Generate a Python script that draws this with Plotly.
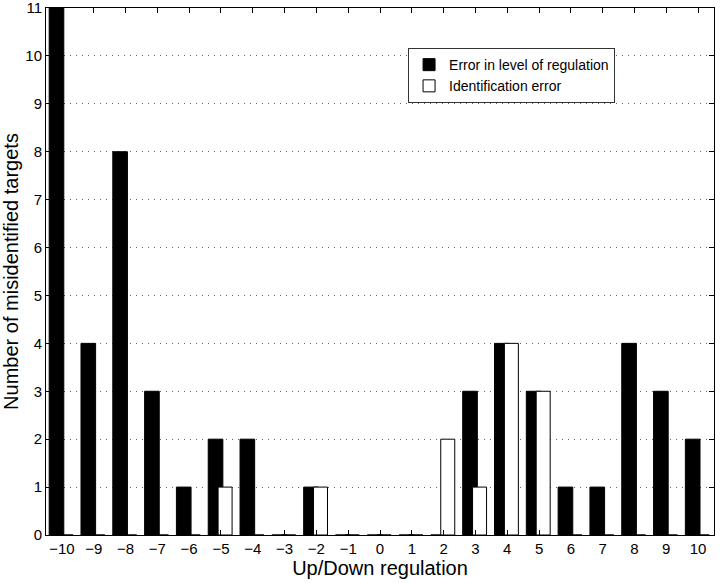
import plotly.graph_objects as go

regulation = list(range(-10, 11))
level_error = [11, 4, 8, 3, 1, 2, 2, 0, 1, 0, 0, 0, 0, 3, 4, 3, 1, 1, 4, 3, 2]
ident_error = [0, 0, 0, 0, 0, 1, 0, 0, 1, 0, 0, 0, 2, 1, 4, 3, 0, 0, 0, 0, 0]
y_ticks = list(range(0, 12))

FONT = "Liberation Sans, Arial, Helvetica, sans-serif"

fig = go.Figure()
fig.add_trace(go.Bar(
    x=regulation, y=level_error, name="Error in level of regulation",
    marker=dict(color="black", line=dict(color="black", width=1)),
    offset=-0.4, width=0.46,
))
fig.add_trace(go.Bar(
    x=regulation, y=ident_error, name="Identification error",
    marker=dict(color="white", line=dict(color="black", width=1)),
    offset=-0.09, width=0.44,
))

fig.update_layout(
    barmode="overlay",
    width=720, height=583,
    margin=dict(l=46, r=6, t=8, b=48),
    paper_bgcolor="white", plot_bgcolor="white",
    font=dict(family=FONT, size=15, color="black"),
    showlegend=True,
    legend=dict(
        x=0.542, y=0.924, xanchor="left", yanchor="top",
        bordercolor="#333333", borderwidth=1, bgcolor="white",
        font=dict(size=14), tracegroupgap=0,
    ),
)
fig.update_xaxes(
    range=[-10.5, 10.5], tickmode="array", tickvals=regulation,
    ticktext=[("\u2212" + str(-v)) if v < 0 else str(v) for v in regulation],
    ticks="inside", ticklen=5, tickcolor="black",
    showline=True, linecolor="black", linewidth=1, mirror="ticks",
    showgrid=False, zeroline=False, automargin=False,
    title=dict(text="Up/Down regulation", font=dict(size=20), standoff=2),
    tickfont=dict(size=15),
)
fig.update_yaxes(
    range=[0, 11], tickmode="array", tickvals=y_ticks,
    ticks="inside", ticklen=5, tickcolor="black",
    showline=True, linecolor="black", linewidth=1, mirror="ticks",
    showgrid=True, gridcolor="#666666", griddash="1px,5px", gridwidth=1,
    zeroline=False, automargin=False, ticklabeloverflow="allow",
    title=dict(text="Number of misidentified targets", font=dict(size=20), standoff=6),
    tickfont=dict(size=15),
)

fig.write_html(
    "out.html",
    config={"displayModeBar": False},
    post_script="document.body.style.margin='0';document.body.style.padding='0';",
)
